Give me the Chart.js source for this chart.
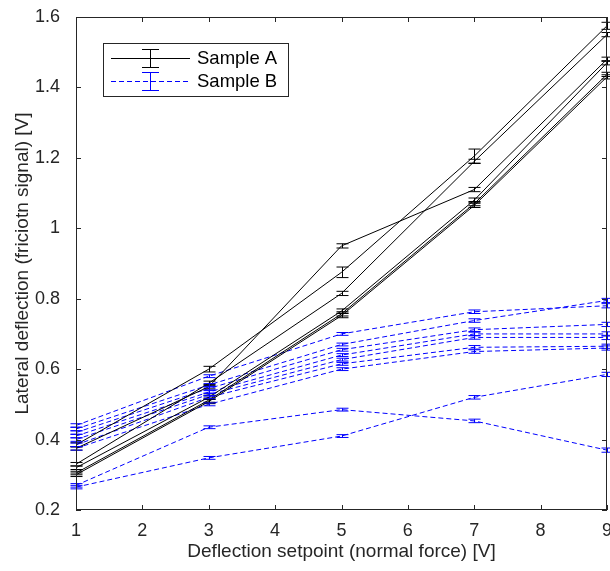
<!DOCTYPE html>
<html>
<head>
<meta charset="utf-8">
<script src="https://cdn.jsdelivr.net/npm/chart.js@4.4.1/dist/chart.umd.min.js"></script>
<style>
  html, body { margin: 0; padding: 0; background: #fff; }
</style>
</head>
<body>
<canvas id="frictionChart" width="610" height="571"></canvas>
<script>
// deflection setpoints
const setpoints = [1, 3, 5, 7, 9];

// Sample A (black, solid)
const a1 = [0.385, 0.600, 0.875, 1.205, 1.575];
const a2 = [0.330, 0.560, 0.815, 1.190, 1.550];
const a3 = [0.375, 0.550, 0.950, 1.110, 1.480];
const a4 = [0.320, 0.520, 0.765, 1.080, 1.470];
const a5 = [0.305, 0.512, 0.757, 1.070, 1.437];
const a6 = [0.300, 0.508, 0.752, 1.065, 1.430];
const a1Err = [0.006, 0.008, 0.015, 0.020, 0.010];
const aErr = [0.005, 0.006, 0.006, 0.006, 0.006];

// Sample B (blue, dashed)
const b1 = [0.440, 0.580, 0.700, 0.763, 0.780];
const b2 = [0.430, 0.555, 0.670, 0.738, 0.795];
const b3 = [0.420, 0.545, 0.655, 0.712, 0.727];
const b4 = [0.410, 0.535, 0.640, 0.700, 0.700];
const b5 = [0.400, 0.528, 0.627, 0.690, 0.690];
const b6 = [0.385, 0.520, 0.615, 0.662, 0.665];
const b7 = [0.375, 0.500, 0.600, 0.650, 0.660];
const b8 = [0.270, 0.435, 0.485, 0.453, 0.370];
const b9 = [0.265, 0.348, 0.410, 0.520, 0.585];
const bErr = [0.005, 0.004, 0.004, 0.005, 0.006];

const xTicks = [1, 2, 3, 4, 5, 6, 7, 8, 9];
const yTicks = [0.2, 0.4, 0.6, 0.8, 1, 1.2, 1.4, 1.6];

const axisColor = '#262626';
const blue = '#0000ff';
const fontFamily = '"Liberation Sans", Arial, Helvetica, sans-serif';

function seriesA(values, errs) {
    return {
        label: 'Sample A',
        data: setpoints.map((x, i) => ({ x, y: values[i] })),
        errors: errs,
        borderColor: '#000',
        borderWidth: 1,
        pointRadius: 0,
        fill: false,
        tension: 0
    };
}

function seriesB(values, errs) {
    return {
        label: 'Sample B',
        data: setpoints.map((x, i) => ({ x, y: values[i] })),
        errors: errs,
        borderColor: blue,
        borderWidth: 1,
        borderDash: [5, 3],
        pointRadius: 0,
        fill: false,
        tension: 0
    };
}

// vertical error bars with caps
const errorBars = {
    id: 'errorBars',
    afterDatasetsDraw(chart) {
        const { ctx, scales: { x, y } } = chart;
        ctx.save();
        ctx.lineWidth = 1;
        ctx.setLineDash([]);
        chart.data.datasets.forEach(ds => {
            ctx.strokeStyle = ds.borderColor;
            ds.data.forEach((p, i) => {
                const e = ds.errors[i];
                const px = Math.round(x.getPixelForValue(p.x)) + 0.5;
                const top = y.getPixelForValue(p.y + e);
                const bot = y.getPixelForValue(p.y - e);
                ctx.beginPath();
                ctx.moveTo(px, top);
                ctx.lineTo(px, bot);
                ctx.moveTo(px - 6, top);
                ctx.lineTo(px + 6, top);
                ctx.moveTo(px - 6, bot);
                ctx.lineTo(px + 6, bot);
                ctx.stroke();
            });
        });
        ctx.restore();
    }
};

// matlab-style box with inward ticks
const boxFrame = {
    id: 'boxFrame',
    afterDraw(chart) {
        const { ctx, chartArea: a, scales: { x, y } } = chart;
        ctx.save();
        ctx.strokeStyle = axisColor;
        ctx.lineWidth = 1;
        ctx.beginPath();
        xTicks.forEach(v => {
            const px = Math.round(x.getPixelForValue(v)) + 0.5;
            ctx.moveTo(px, a.bottom);
            ctx.lineTo(px, a.bottom - 5);
            ctx.moveTo(px, a.top);
            ctx.lineTo(px, a.top + 5);
        });
        yTicks.forEach(v => {
            const py = Math.round(y.getPixelForValue(v)) + 0.5;
            ctx.moveTo(a.left, py);
            ctx.lineTo(a.left + 5, py);
            ctx.moveTo(a.right, py);
            ctx.lineTo(a.right - 5, py);
        });
        ctx.stroke();
        ctx.strokeRect(Math.round(a.left) + 0.5, Math.round(a.top) + 0.5,
            Math.round(a.right - a.left) - 1, Math.round(a.bottom - a.top) - 1);
        ctx.restore();
    }
};

// legend box inside the axes
const boxLegend = {
    id: 'boxLegend',
    afterDraw(chart) {
        const { ctx } = chart;
        const rows = [
            { text: 'Sample A', color: '#000', dash: [], y: 58 },
            { text: 'Sample B', color: blue, dash: [5, 3], y: 81 }
        ];
        ctx.save();
        ctx.fillStyle = '#fff';
        ctx.fillRect(103, 43, 186, 53);
        ctx.strokeStyle = axisColor;
        ctx.lineWidth = 1;
        ctx.strokeRect(103.5, 43.5, 185, 53);
        rows.forEach(r => {
            ctx.strokeStyle = r.color;
            ctx.setLineDash(r.dash);
            ctx.beginPath();
            ctx.moveTo(111, r.y + 0.5);
            ctx.lineTo(190, r.y + 0.5);
            ctx.stroke();
            ctx.setLineDash([]);
            ctx.beginPath();
            ctx.moveTo(150.5, r.y - 9);
            ctx.lineTo(150.5, r.y + 9);
            ctx.moveTo(142, r.y - 8.5);
            ctx.lineTo(159, r.y - 8.5);
            ctx.moveTo(142, r.y + 9.5);
            ctx.lineTo(159, r.y + 9.5);
            ctx.stroke();
            ctx.fillStyle = '#000';
            ctx.font = '18.5px ' + fontFamily;
            ctx.textBaseline = 'middle';
            ctx.fillText(r.text, 197, r.y + 1);
        });
        ctx.restore();
    }
};

new Chart(document.getElementById('frictionChart'), {
    type: 'line',
    data: {
        datasets: [
            seriesA(a1, a1Err), seriesA(a2, aErr), seriesA(a3, aErr),
            seriesA(a4, aErr), seriesA(a5, aErr), seriesA(a6, aErr),
            seriesB(b1, bErr), seriesB(b2, bErr), seriesB(b3, bErr),
            seriesB(b4, bErr), seriesB(b5, bErr), seriesB(b6, bErr),
            seriesB(b7, bErr), seriesB(b8, bErr), seriesB(b9, bErr)
        ]
    },
    options: {
        responsive: false,
        animation: false,
        layout: { padding: { top: 17, right: 3, left: 0, bottom: 0 } },
        plugins: {
            legend: { display: false },
            tooltip: { enabled: false }
        },
        scales: {
            x: {
                type: 'linear',
                min: 1,
                max: 9,
                afterBuildTicks: s => { s.ticks = xTicks.map(v => ({ value: v })); },
                afterFit: s => {
                    s.height = 61;
                    s.paddingLeft = 0;
                    s.paddingRight = 0;
                },
                grid: { display: false },
                border: { display: false },
                ticks: {
                    padding: 2,
                    color: axisColor,
                    font: { family: fontFamily, size: 18 },
                    maxRotation: 0,
                    callback: v => String(v)
                },
                title: {
                    display: true,
                    text: 'Deflection setpoint (normal force) [V]',
                    color: axisColor,
                    font: { family: fontFamily, size: 19 },
                    padding: { top: 0, bottom: 8 }
                }
            },
            y: {
                type: 'linear',
                min: 0.2,
                max: 1.6,
                afterBuildTicks: s => { s.ticks = yTicks.map(v => ({ value: v })); },
                afterFit: s => {
                    s.width = 76;
                    s.paddingTop = 0;
                    s.paddingBottom = 0;
                },
                grid: { display: false },
                border: { display: false },
                ticks: {
                    padding: 8,
                    color: axisColor,
                    font: { family: fontFamily, size: 18 },
                    callback: v => String(+v.toFixed(1))
                },
                title: {
                    display: true,
                    text: 'Lateral deflection (friciotn signal) [V]',
                    color: axisColor,
                    font: { family: fontFamily, size: 19 },
                    padding: { top: 11, bottom: 0 }
                }
            }
        }
    },
    plugins: [errorBars, boxFrame, boxLegend]
});
</script>
</body>
</html>
